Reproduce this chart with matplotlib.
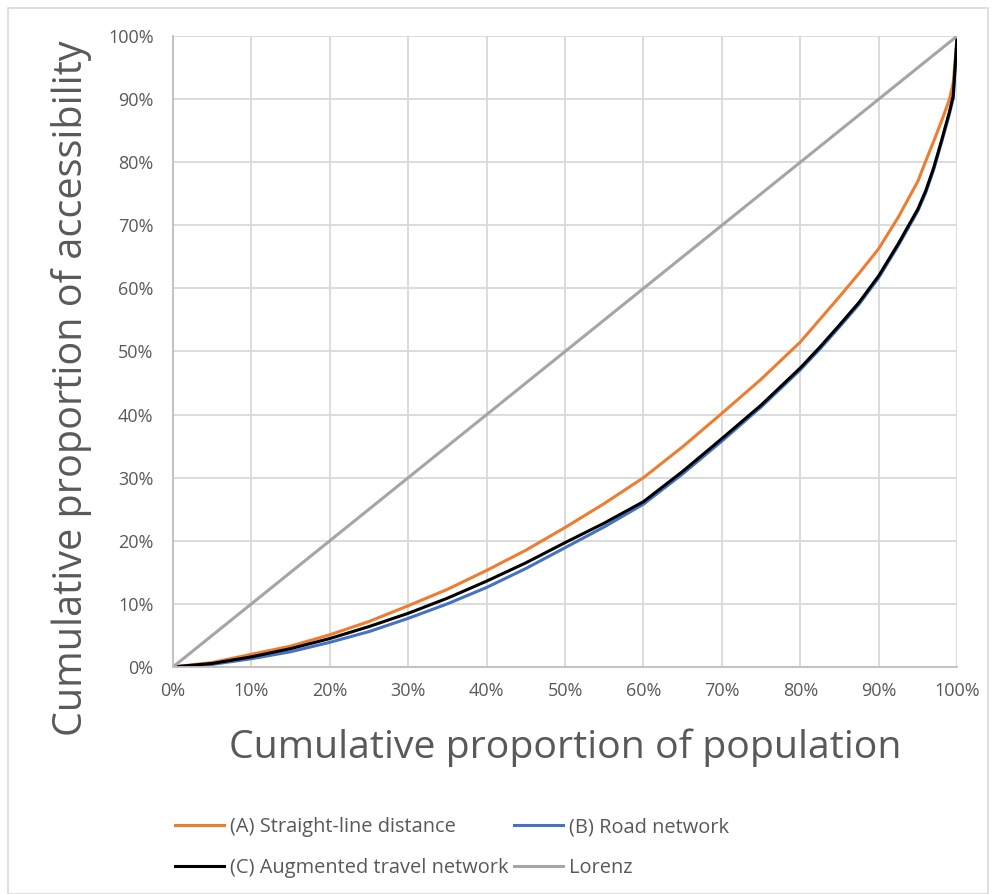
import matplotlib.pyplot as plt
from matplotlib.ticker import PercentFormatter

plt.rcParams['font.family'] = ['Open Sans', 'DejaVu Sans']

# cumulative proportion of population (%)
pop = [0, 5, 10, 15, 20, 25, 30, 35, 40, 45, 50, 55, 60, 65, 70, 75, 80, 82.5,
       85, 87.5, 90, 92.5, 95, 96, 97, 98, 99, 99.5, 100]
# cumulative proportion of accessibility (%)
straight_line = [0, 0.7, 2.0, 3.3, 5.1, 7.2, 9.7, 12.3, 15.3, 18.5, 22.1, 25.9, 30.0, 34.9, 40.2, 45.6, 51.5, 55.1,
                 58.7, 62.4, 66.3, 71.3, 77.0, 80.2, 83.3, 86.5, 89.9, 92.6, 100]
road = [0, 0.4, 1.3, 2.4, 3.9, 5.6, 7.7, 10.0, 12.6, 15.6, 18.9, 22.2, 25.8, 30.6, 35.8, 41.2, 47.1, 50.4,
        53.9, 57.5, 61.7, 66.8, 72.3, 75.2, 78.8, 83.1, 87.6, 90.2, 100]
augmented = [0, 0.55, 1.6, 2.9, 4.5, 6.4, 8.5, 10.9, 13.6, 16.5, 19.7, 22.8, 26.2, 31.0, 36.2, 41.5, 47.4, 50.7,
             54.2, 57.8, 62.0, 67.1, 72.6, 75.5, 79.1, 83.4, 87.9, 90.5, 100]
lorenz_x = [0, 100]
lorenz_y = [0, 100]

fig = plt.figure(figsize=(9.96, 8.94), dpi=100)
ax = fig.add_axes([0.1737, 0.254, 0.7873, 0.7057])

lA, = ax.plot(pop, straight_line, color='#ed7d31', lw=2.2, label='(A) Straight-line distance')
lB, = ax.plot(pop, road, color='#4472c4', lw=2.2, label='(B) Road network')
lC, = ax.plot(pop, augmented, color='black', lw=2.2, label='(C) Augmented travel network')
lL, = ax.plot(lorenz_x, lorenz_y, color='#a5a5a5', lw=2.2, label='Lorenz')

ax.set_xlim(0, 100)
ax.set_ylim(0, 100)
ax.set_xticks(range(0, 101, 10))
ax.set_yticks(range(0, 101, 10))
ax.xaxis.set_major_formatter(PercentFormatter(decimals=0))
ax.yaxis.set_major_formatter(PercentFormatter(decimals=0))
ax.tick_params(length=0, labelsize=13, labelcolor='#595959')
ax.tick_params(axis='x', pad=11)
ax.tick_params(axis='y', pad=14)
ax.grid(True, color='#d9d9d9', lw=1.3)
ax.set_axisbelow(True)
for s in ['top', 'right']:
    ax.spines[s].set_visible(False)
for s in ['left', 'bottom']:
    ax.spines[s].set_color('#bfbfbf')
    ax.spines[s].set_linewidth(1.3)

ax.set_xlabel('Cumulative proportion of population', fontsize=28.3, color='#595959')
ax.set_ylabel('Cumulative proportion of accessibility', fontsize=28.5, color='#595959')
ax.xaxis.set_label_coords(0.5, -0.097)
ax.yaxis.set_label_coords(-0.103, 0.442)

# row-major order like the original: A, B / C, Lorenz
fig.legend([lA, lC, lB, lL], [h.get_label() for h in [lA, lC, lB, lL]],
           loc='upper left', bbox_to_anchor=(0.158, 0.106), ncol=2, frameon=False,
           fontsize=14.4, labelcolor='#595959', handlelength=2.45, handletextpad=0.3,
           columnspacing=0.25, labelspacing=1.02)

fig.patches.append(plt.Rectangle((8 / 996, 0), 1 - 16 / 996, 1 - 8 / 894, transform=fig.transFigure,
                                 fill=False, edgecolor='#d9d9d9', lw=1.2))

fig.savefig('out.png', dpi=100)
